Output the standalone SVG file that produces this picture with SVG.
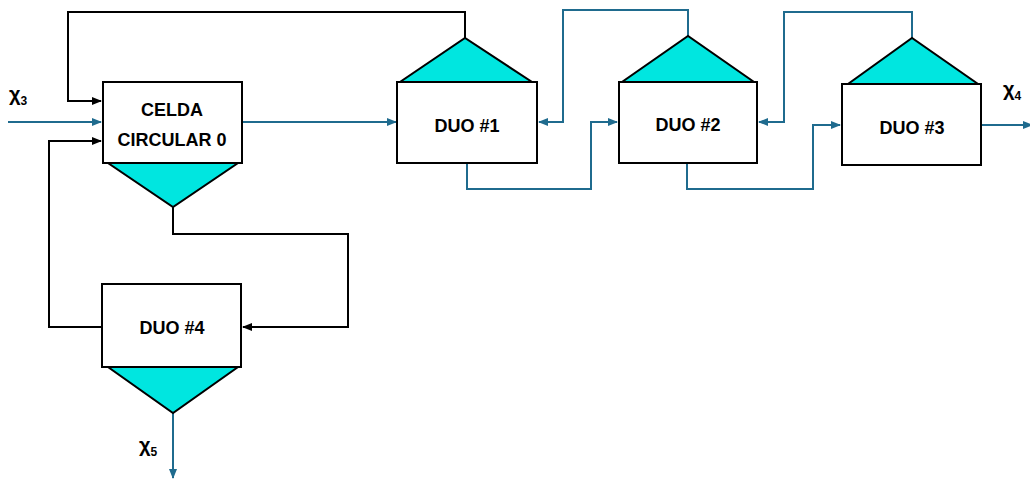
<svg xmlns="http://www.w3.org/2000/svg" width="1030" height="480" viewBox="0 0 1030 480">
<defs>
<marker id="ab" markerWidth="10" markerHeight="8" refX="9" refY="4" orient="auto" markerUnits="userSpaceOnUse"><path d="M0,0 L10,4 L0,8 Z" fill="#000"/></marker>
<marker id="au" markerWidth="10" markerHeight="8" refX="9" refY="4" orient="auto" markerUnits="userSpaceOnUse"><path d="M0,0 L10,4 L0,8 Z" fill="#1f6b8e"/></marker>
<style>
.box{fill:#fff;stroke:#000;stroke-width:2}
.tri{fill:#00e6e0;stroke:#000;stroke-width:2;stroke-linejoin:miter}
.lbl{font-family:"Liberation Sans",Arial,sans-serif;font-weight:bold;font-size:18px;fill:#000;text-anchor:middle}
.x{font-family:"Liberation Sans",Arial,sans-serif;font-weight:bold;font-size:20px;fill:#000}
.k{fill:none;stroke:#000;stroke-width:2}
.b{fill:none;stroke:#1f6b8e;stroke-width:2}
</style>
</defs>
<rect width="1030" height="480" fill="#fff"/>
<g id="connectors">
<path class="k" d="M465,38 V12 H68 V101 H101" marker-end="url(#ab)"/>
<path class="b" d="M8,122 H101" marker-end="url(#au)"/>
<path class="k" d="M102,327 H49 V141 H101" marker-end="url(#ab)"/>
<path class="b" d="M242,122 H396" marker-end="url(#au)"/>
<path class="k" d="M173,207 V234 H348 V327 H243" marker-end="url(#ab)"/>
<path class="b" d="M688,36 V10 H563 V122 H539" marker-end="url(#au)"/>
<path class="b" d="M467,163 V189 H591 V122 H617" marker-end="url(#au)"/>
<path class="b" d="M912,38 V12 H784 V122 H759" marker-end="url(#au)"/>
<path class="b" d="M687,163 V189 H813 V125 H840" marker-end="url(#au)"/>
<path class="b" d="M981,125 H1032" marker-end="url(#au)"/>
<path class="b" d="M173,413 V478" marker-end="url(#au)"/>
</g>
<g id="celda">
<rect class="box" x="103" y="82" width="139" height="81"/>
<path class="tri" d="M108,163 L238,163 L173,207 Z"/>
<text class="lbl" x="172" y="116">CELDA</text>
<text class="lbl" x="172" y="146">CIRCULAR 0</text>
</g>
<g id="duo1">
<rect class="box" x="397" y="82" width="140" height="81"/>
<path class="tri" d="M400,82 L532,82 L465,38 Z"/>
<text class="lbl" x="467" y="132">DUO #1</text>
</g>
<g id="duo2">
<rect class="box" x="619" y="82" width="138" height="81"/>
<path class="tri" d="M622,82 L754,82 L688,36 Z"/>
<text class="lbl" x="688" y="131">DUO #2</text>
</g>
<g id="duo3">
<rect class="box" x="842" y="84" width="139" height="81"/>
<path class="tri" d="M848,84 L978,84 L912,38 Z"/>
<text class="lbl" x="912" y="134">DUO #3</text>
</g>
<g id="duo4">
<rect class="box" x="102" y="284" width="139" height="83"/>
<path class="tri" d="M108,367 L238,367 L173,413 Z"/>
<text class="lbl" x="172" y="334">DUO #4</text>
</g>
<g id="labels">
<text class="x" x="9" y="101">χ<tspan font-size="12" dy="4">3</tspan></text>
<text class="x" x="1003" y="96">χ<tspan font-size="12" dy="4">4</tspan></text>
<text class="x" x="139" y="452">χ<tspan font-size="12" dy="4">5</tspan></text>
</g>
</svg>
